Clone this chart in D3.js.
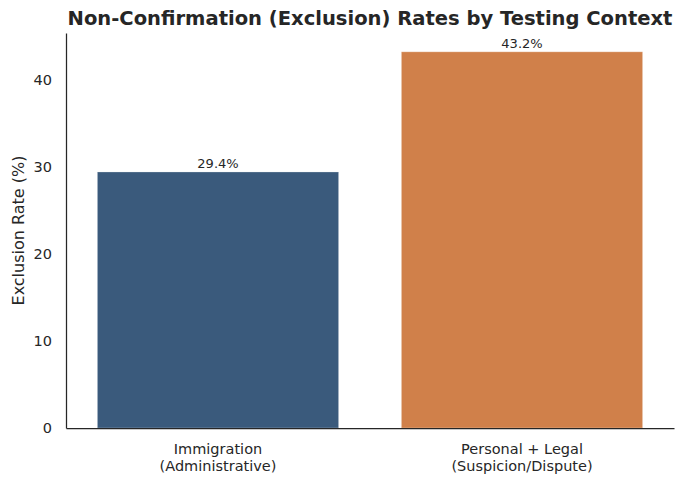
<!DOCTYPE html>
<html><head><meta charset="utf-8">
<script src="https://cdn.jsdelivr.net/npm/d3@7"></script>
<style>body{margin:0;background:#fff;} text{font-family:"DejaVu Sans",sans-serif;fill:#262626;}</style>
</head><body><svg id="c" width="684" height="484"></svg>
<script>
const categories = ["Immigration\n(Administrative)", "Personal + Legal\n(Suspicion/Dispute)"];
const values = [29.4, 43.2];
const colors = ["#3a5a7c", "#d0804a"];
const yTicks = [0, 10, 20, 30, 40];
const title = "Non-Confirmation (Exclusion) Rates by Testing Context";
const yLabel = "Exclusion Rate (%)";

const svg = d3.select("#c");
const m = {left: 66, right: 10, top: 33, bottom: 56};
const W = 684, H = 484;
const x = d3.scaleBand().domain(categories).range([m.left, W - m.right]).paddingInner(0.2).paddingOuter(0.1);
const y = d3.scaleLinear().domain([0, d3.max(values) * 1.05]).range([H - m.bottom, m.top]);

svg.selectAll("rect.bar").data(values).join("rect").attr("class","bar")
  .attr("x", (d,i) => x(categories[i]) + 1).attr("width", x.bandwidth() - 2)
  .attr("y", d => y(d)).attr("height", d => y(0) - y(d))
  .attr("fill", (d,i) => colors[i]).attr("stroke", "#ffffff").attr("stroke-opacity",0.25).attr("stroke-width",1);

svg.selectAll("text.val").data(values).join("text").attr("class","val")
  .attr("x", (d,i) => x(categories[i]) + x.bandwidth()/2).attr("y", d => y(d) - 4)
  .attr("text-anchor","middle").attr("font-size", 13).text(d => d.toFixed(1) + "%");

const yAxis = svg.append("g").attr("transform", `translate(${m.left},0)`)
  .call(d3.axisLeft(y).tickValues(yTicks).tickSize(0).tickPadding(14));
yAxis.select(".domain").attr("stroke","#262626").attr("stroke-width",1.25);
yAxis.selectAll("text").attr("font-size", 14.5).attr("font-family","DejaVu Sans").attr("fill","#262626");

const xAxis = svg.append("g").attr("transform", `translate(0,${H - m.bottom})`)
  .call(d3.axisBottom(x).tickSize(0).tickFormat(""));
xAxis.select(".domain").attr("stroke","#262626").attr("stroke-width",1.25);
xAxis.selectAll(".tick").each(function(d){
  const t = d3.select(this).append("text").attr("text-anchor","middle").attr("font-size",14.5)
    .attr("font-family","DejaVu Sans").attr("fill","#262626");
  d.split("\n").forEach((line, i) => t.append("tspan").attr("x",0).attr("y", 26 + i*17).text(line));
});

svg.append("text").attr("transform", `translate(24,${(m.top + H - m.bottom)/2}) rotate(-90)`)
  .attr("text-anchor","middle").attr("font-size",16).text(yLabel);

svg.append("text").attr("x", (m.left + W - m.right)/2).attr("y", 25).attr("text-anchor","middle")
  .attr("font-size",19.55).attr("font-weight","bold").text(title);
</script></body></html>
